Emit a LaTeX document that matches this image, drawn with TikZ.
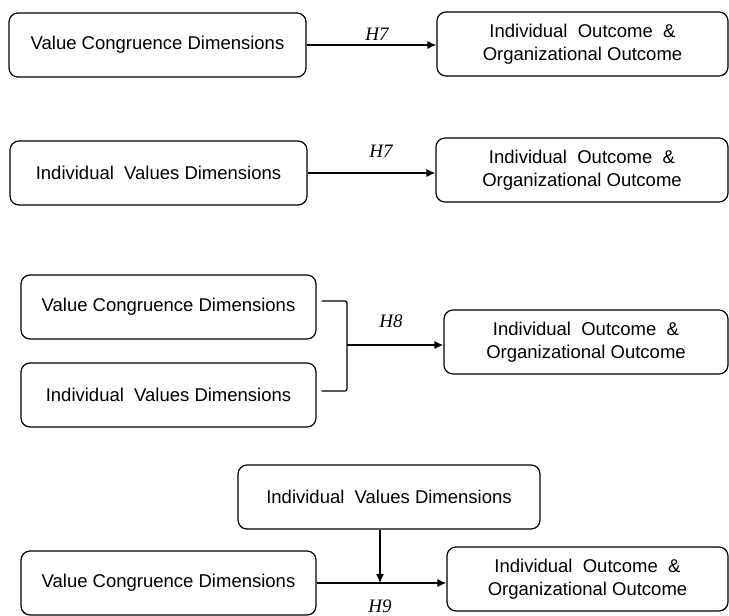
\documentclass[tikz,border=0pt]{standalone}
\usepackage{fontspec}
\setmainfont{Liberation Sans}
\newfontfamily\hypfont{Liberation Serif}
\usetikzlibrary{arrows.meta,calc}

\tikzset{
  box/.style={draw, line width=1.2pt, rounded corners=9pt, align=center,
    inner sep=0pt, minimum height=64pt,
    font=\fontsize{18.5}{23}\selectfont},
  link/.style={line width=1.2pt},
  arr/.style={link, -{Latex[length=9pt,width=8pt]}},
  hyp/.style={font=\hypfont\itshape\fontsize{19}{19}\selectfont, inner sep=0pt},
}

\begin{document}
\begin{tikzpicture}[x=1pt,y=-1pt]
\useasboundingbox (0,0) rectangle (729,616);

% H7: value congruence -> outcomes
\node[box, minimum width=297pt] (vc1) at (157.5,45) {Value Congruence Dimensions};
\node[box, minimum width=291pt] (out1) at (582.5,44) {Individual~ Outcome~ \&\\Organizational Outcome};
\draw[arr] (vc1.east) -- (vc1.east -| out1.west);
\node[hyp] (h7a) at (377,34) {H7};

% H7: individual values -> outcomes
\node[box, minimum width=297pt] (iv2) at (158.5,173) {Individual~ Values Dimensions};
\node[box, minimum width=292pt] (out2) at (582,170) {Individual~ Outcome~ \&\\Organizational Outcome};
\draw[arr] (iv2.east) -- (iv2.east -| out2.west);
\node[hyp] (h7b) at (381,151) {H7};

% H8: both dimensions jointly -> outcomes
\node[box, minimum width=295pt] (vc3) at (168.5,307) {Value Congruence Dimensions};
\node[box, minimum width=295pt] (iv3) at (168.5,395) {Individual~ Values Dimensions};
\node[box, minimum width=284pt] (out3) at (586,342) {Individual~ Outcome~ \&\\Organizational Outcome};
\coordinate (join3) at (347,345);
\draw[link, rounded corners=2pt] ($(vc3.east)+(5,-6)$) -| (join3) |- ($(iv3.east)+(5,-4)$);
\draw[arr] (join3) -- (join3 -| out3.west);
\node[hyp] (h8) at (391,321) {H8};

% H9: individual values moderating value congruence -> outcomes
\node[box, minimum width=302pt] (iv4) at (389,497) {Individual~ Values Dimensions};
\node[box, minimum width=295pt] (vc4) at (168.5,583) {Value Congruence Dimensions};
\node[box, minimum width=281pt] (out4) at (587.5,579) {Individual~ Outcome~ \&\\Organizational Outcome};
\coordinate (join4) at (380,583);
\draw[arr] (vc4.east) -- (vc4.east -| out4.west);
\draw[arr] (join4 |- iv4.south) -- (join4);
\node[hyp] (h9) at (380,606) {H9};
\end{tikzpicture}
\end{document}
